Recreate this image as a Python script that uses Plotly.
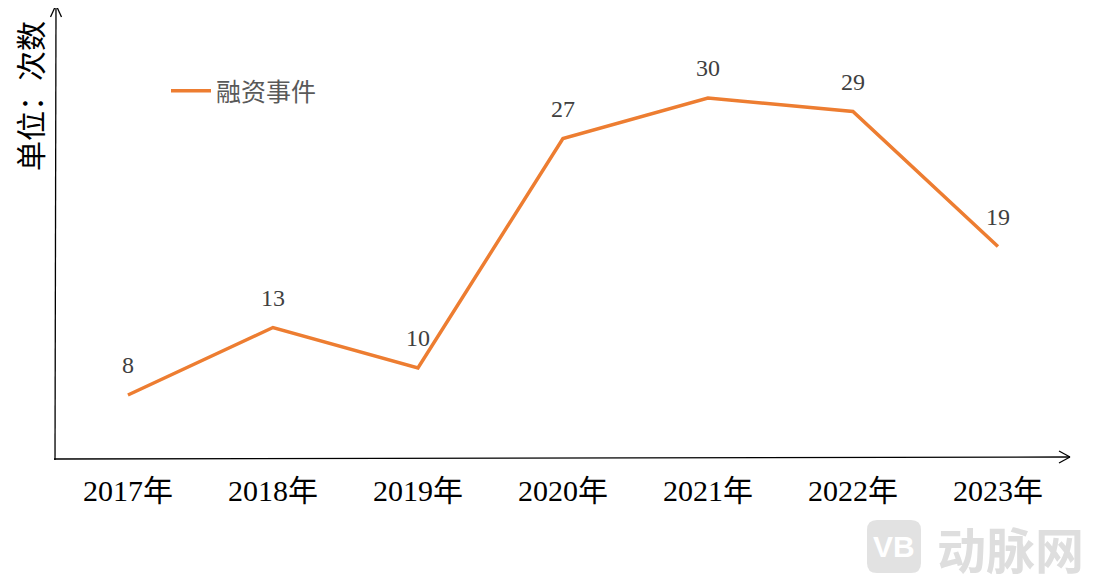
import plotly.graph_objects as go

years = ["2017年", "2018年", "2019年", "2020年", "2021年", "2022年", "2023年"]
events = [8, 13, 10, 27, 30, 29, 19]
series_name = "融资事件"
y_title = "单位：次数"

OFF = 8  # page body margin
W, H = 1095 - OFF, 584 - OFF
L, R, T, B = 55, 1070, 8, 458  # plot area in window px


def px(x):
    return (x - L) / (R - L)


def py(y):
    return (B - y) / (B - T)


def rounded_rect(x0, y0, x1, y1, r):
    pts = [
        f"M{px(x0 + r)},{py(y0)}",
        f"L{px(x1 - r)},{py(y0)}",
        f"Q{px(x1)},{py(y0)} {px(x1)},{py(y0 + r)}",
        f"L{px(x1)},{py(y1 - r)}",
        f"Q{px(x1)},{py(y1)} {px(x1 - r)},{py(y1)}",
        f"L{px(x0 + r)},{py(y1)}",
        f"Q{px(x0)},{py(y1)} {px(x0)},{py(y1 - r)}",
        f"L{px(x0)},{py(y0 + r)}",
        f"Q{px(x0)},{py(y0)} {px(x0 + r)},{py(y0)}",
        "Z",
    ]
    return " ".join(pts)


xs = list(range(len(years)))
serif = "Liberation Serif, Noto Sans CJK SC, serif"
cjk = "Noto Sans CJK SC, sans-serif"
orange = "#ED7D31"

fig = go.Figure()
fig.add_trace(go.Scatter(
    x=xs, y=events, mode="lines", name=series_name,
    line=dict(color=orange, width=3.5),
))

ann = []
for xi, v in zip(xs, events):
    ann.append(dict(x=xi, y=v, xref="x", yref="y", text=str(v), showarrow=False,
                    yshift=30, font=dict(family=serif, size=24, color="#404040")))

ann.append(dict(x=px(29), y=py(96), xref="paper", yref="paper", text=y_title,
                textangle=-90, showarrow=False, xanchor="center", yanchor="middle",
                font=dict(family=cjk, size=30, color="#000000")))

# watermark
ann.append(dict(x=px(1010), y=py(547), xref="paper", yref="paper", text="<b>动脉网</b>",
                showarrow=False, xanchor="center", yanchor="middle",
                font=dict(family=cjk, size=49, color="#dedede")))
ann.append(dict(x=px(894), y=py(546), xref="paper", yref="paper", text="<b>VB</b>",
                showarrow=False, xanchor="center", yanchor="middle",
                font=dict(family="Liberation Sans, sans-serif", size=30, color="#ffffff")))

line_k = dict(color="#000000", width=1.3)
shapes = [
    # y axis + arrow
    dict(type="line", xref="paper", yref="paper", x0=px(55), y0=py(460), x1=px(56), y1=py(5), line=line_k),
    dict(type="line", xref="paper", yref="paper", x0=px(50.5), y0=py(17), x1=px(56), y1=py(5), line=line_k),
    dict(type="line", xref="paper", yref="paper", x0=px(61.5), y0=py(17), x1=px(56), y1=py(5), line=line_k),
    # x axis + arrow
    dict(type="line", xref="paper", yref="paper", x0=px(54), y0=py(459), x1=px(1070), y1=py(457), line=line_k),
    dict(type="line", xref="paper", yref="paper", x0=px(1059), y0=py(451), x1=px(1070), y1=py(457), line=line_k),
    dict(type="line", xref="paper", yref="paper", x0=px(1059), y0=py(463), x1=px(1070), y1=py(457), line=line_k),
    # watermark logo
    dict(type="path", xref="paper", yref="paper", path=rounded_rect(867, 520, 921, 573, 10),
         fillcolor="#e2e2e2", line=dict(width=0), layer="below"),
]

fig.update_layout(
    width=W, height=H,
    margin=dict(l=L - OFF, r=1095 - R, t=T - OFF, b=584 - B),
    paper_bgcolor="#ffffff", plot_bgcolor="#ffffff",
    showlegend=True,
    legend=dict(x=px(166), y=py(91), xanchor="left", yanchor="middle",
                bgcolor="rgba(0,0,0,0)", itemwidth=40,
                font=dict(family=cjk, size=25, color="#595959")),
    xaxis=dict(range=[-0.503, 6.497], tickvals=xs, ticktext=years,
               showgrid=False, zeroline=False, showline=False,
               ticks="outside", ticklen=6, tickcolor="rgba(0,0,0,0)",
               tickfont=dict(family=serif, size=30, color="#000000"),
               fixedrange=True),
    yaxis=dict(range=[(503 - 458) / 13.5, (503 - 8) / 13.5], showgrid=False,
               zeroline=False, showline=False, showticklabels=False, ticks="",
               fixedrange=True),
    annotations=ann, shapes=shapes,
)

fig.write_html("out.html")
